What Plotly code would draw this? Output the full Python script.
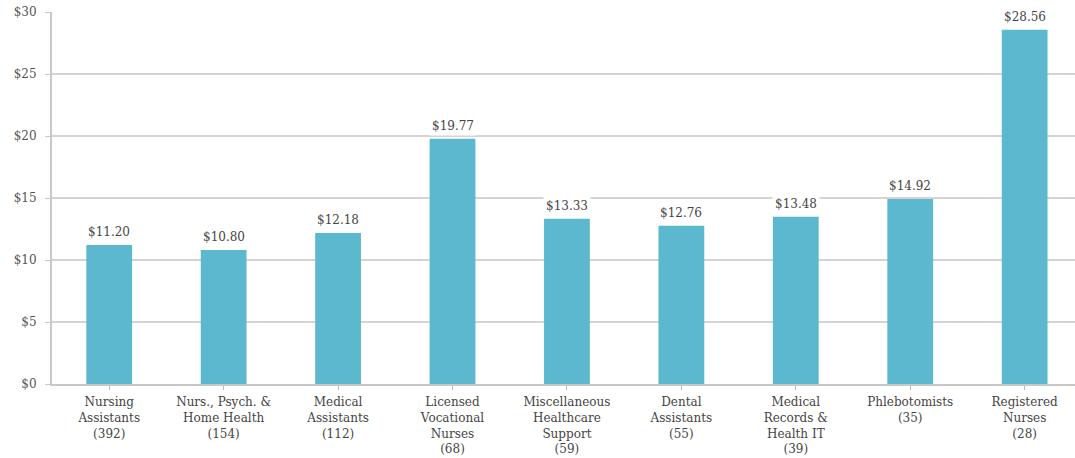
import plotly.graph_objects as go

# Hourly wage by occupation (number of job postings in parentheses)
occupations = [
    "Nursing<br>Assistants<br>(392)",
    "Nurs., Psych. &amp;<br>Home Health<br>(154)",
    "Medical<br>Assistants<br>(112)",
    "Licensed<br>Vocational<br>Nurses<br>(68)",
    "Miscellaneous<br>Healthcare<br>Support<br>(59)",
    "Dental<br>Assistants<br>(55)",
    "Medical<br>Records &amp;<br>Health IT<br>(39)",
    "Phlebotomists<br>(35)",
    "Registered<br>Nurses<br>(28)",
]
wages = [11.20, 10.80, 12.18, 19.77, 13.33, 12.76, 13.48, 14.92, 28.56]
y_ticks = [0, 5, 10, 15, 20, 25, 30]
y_tick_labels = ["$0", "$5", "$10", "$15", "$20", "$25", "$30"]

FONT = "DejaVu Serif"
BAR = "#5bb8cf"
TEXT = "#444444"
GRID = "#d4d4d4"

x = list(range(len(occupations)))

fig = go.Figure(
    go.Bar(
        x=x,
        y=wages,
        marker=dict(color=BAR, line=dict(width=0)),
        width=0.4,
        hoverinfo="skip",
    )
)

# Value labels on a white box so they sit over the gridlines
for xi, w in zip(x, wages):
    fig.add_annotation(
        x=xi, y=w, text=f"${w:.2f}",
        showarrow=False, yanchor="bottom", yshift=3,
        bgcolor="white", borderpad=2,
        font=dict(family=FONT, size=12, color=TEXT),
    )

fig.update_layout(
    width=1075,
    height=458,
    margin=dict(l=52, r=0, t=12, b=74),
    paper_bgcolor="white",
    plot_bgcolor="white",
    showlegend=False,
    font=dict(family=FONT, size=12, color=TEXT),
    xaxis=dict(
        tickmode="array",
        tickvals=x,
        ticktext=occupations,
        range=[-0.5, 8.44],
        tickson="boundaries",
        ticks="outside",
        ticklen=4,
        tickcolor="#bbbbbb",
        showline=True,
        linecolor="#c8c8c8",
        linewidth=2,
        showgrid=False,
        ticklabelstandoff=2,
        tickfont=dict(family=FONT, size=12, color=TEXT),
    ),
    yaxis=dict(
        range=[0, 30],
        tickmode="array",
        tickvals=y_ticks,
        ticktext=y_tick_labels,
        ticks="outside",
        ticklen=5,
        tickcolor="#c8c8c8",
        showline=True,
        linecolor="#c8c8c8",
        linewidth=2,
        showgrid=True,
        gridcolor=GRID,
        gridwidth=1.5,
        zeroline=False,
        ticklabelstandoff=6,
        tickfont=dict(family=FONT, size=12, color="#555555"),
    ),
)

fig.write_html("out.html")
